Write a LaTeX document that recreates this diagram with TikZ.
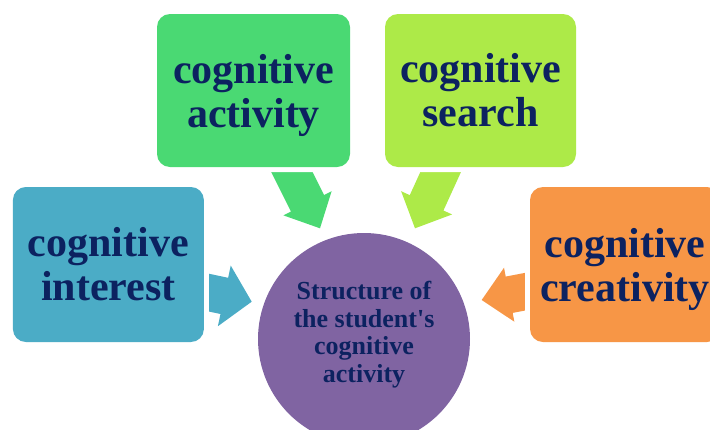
\documentclass[tikz,border=0pt]{standalone}
\usepackage{fontspec}
\setmainfont{Liberation Serif}
\usetikzlibrary{calc}
\definecolor{cblue}{RGB}{75,172,198}
\definecolor{cgreen}{RGB}{74,217,115}
\definecolor{clime}{RGB}{173,234,72}
\definecolor{corange}{RGB}{247,150,70}
\definecolor{cpurple}{RGB}{128,100,162}
\definecolor{ctext}{RGB}{12,34,96}
\newcommand\fatarrow[4]{% colour, start, tip, head half width
  \fill[#1] ($(#2)!-15pt!(#3)!18.5pt!90:(#3)$)
    -- ($(#3)!28pt!(#2)!18.5pt!-90:(#2)$)
    -- ($(#3)!28pt!(#2)!#4!-90:(#2)$)
    -- (#3)
    -- ($(#3)!28pt!(#2)!#4!90:(#2)$)
    -- ($(#3)!28pt!(#2)!18.5pt!90:(#2)$)
    -- ($(#2)!-15pt!(#3)!18.5pt!-90:(#3)$) -- cycle;}
\begin{document}
\begin{tikzpicture}[x=1pt,y=-1pt,
  boxnode/.style={rectangle, rounded corners=13pt, inner sep=0pt, align=center,
    text=ctext, font=\fontsize{42}{44}\selectfont\bfseries,
    preaction={draw=white, line width=10pt}},
  corenode/.style={circle, inner sep=0pt, align=center, minimum size=212pt,
    fill=cpurple, text=ctext, font=\fontsize{26}{27.5}\selectfont\bfseries}]
\useasboundingbox (0,0) rectangle (710,429);
\clip (0,0) rectangle (710,429);
% arrow end points
\coordinate (gs) at (291.7,171.7);
\coordinate (gt) at (320,228.3);
\coordinate (ls) at (440.8,171.7);
\coordinate (lt) at (415,228.3);
\coordinate (bs) at (208.3,292.5);
\coordinate (bt) at (251.7,301.7);
\coordinate (os) at (525,291.7);
\coordinate (ot) at (481.7,300);
\fatarrow{cgreen}{gs}{gt}{27pt}
\fatarrow{clime}{ls}{lt}{28pt}
\fatarrow{cblue}{bs}{bt}{31pt}
\fatarrow{corange}{os}{ot}{27.5pt}
% boxes
\node[boxnode, fill=cblue, minimum width=191pt, minimum height=155pt] (interest) at (108.4,264.5) {cognitive\\interest};
\node[boxnode, fill=cgreen, minimum width=193pt, minimum height=153pt] (activity) at (253.5,90.5) {cognitive\\\smash{activity}};
\node[boxnode, fill=clime, minimum width=191pt, minimum height=153pt] (search) at (480.5,90.5) {cognitive\\search};
\node[boxnode, fill=corange, minimum width=190pt, minimum height=155pt] (creativity) at (625,264.5) {cognitive\\\smash{creativity}};
% centre
\node[corenode] (core) at (364,339) {Structure of\\the student\textquotesingle s\\cognitive\\activity\rule[-14pt]{0pt}{1pt}};
\end{tikzpicture}
\end{document}
